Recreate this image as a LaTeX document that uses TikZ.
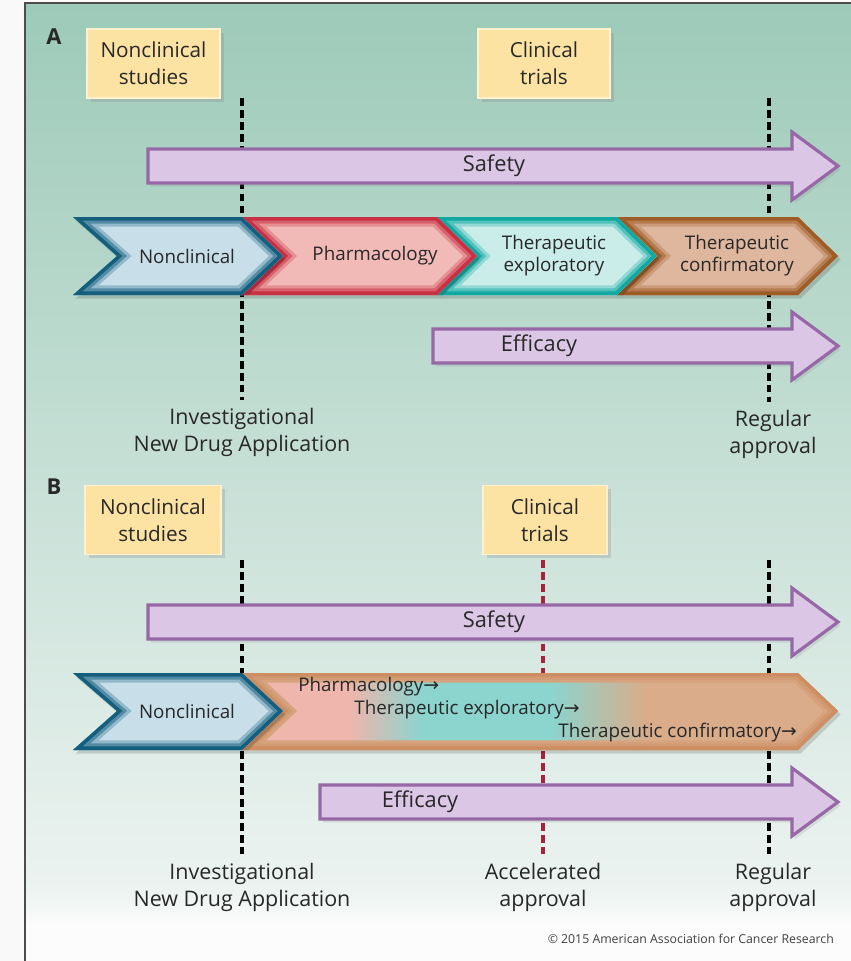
\documentclass[tikz,border=0pt]{standalone}
\usepackage{fontspec}
\setmainfont{Open Sans}
\newfontfamily\arrowfont{DejaVu Sans}
\usepackage{xcolor}
\usepackage{tikz}
\usetikzlibrary{shadows}
\definecolor{bgtop}{RGB}{157,202,185}
\definecolor{bgbot}{RGB}{236,243,240}
\definecolor{boxfill}{RGB}{253,227,163}
\definecolor{boxedge}{RGB}{255,241,205}
\definecolor{lavfill}{RGB}{220,198,230}
\definecolor{lavedge}{RGB}{150,104,166}
\definecolor{ncfill}{RGB}{200,223,234}
\definecolor{ncedge}{RGB}{20,94,126}
\definecolor{phfill}{RGB}{242,186,182}
\definecolor{phedge}{RGB}{200,48,68}
\definecolor{tefill}{RGB}{202,237,233}
\definecolor{teedge}{RGB}{18,168,162}
\definecolor{tcfill}{RGB}{222,183,158}
\definecolor{tcedge}{RGB}{158,92,38}
\definecolor{mixpink}{RGB}{238,182,172}
\definecolor{mixteal}{RGB}{140,212,206}
\definecolor{mixtan}{RGB}{218,172,138}
\definecolor{mixedge}{RGB}{204,142,98}
\definecolor{acceljred}{RGB}{168,34,60}
\definecolor{textdark}{RGB}{40,40,40}

% phase chevron with inner edge glow: path, fill, edge
\newcommand{\phaseshape}[3]{%
  \fill[black, opacity=0.14, xshift=1.5pt, yshift=-2pt] #1;
  \begin{scope}
    \clip #1;
    \fill[#2] #1;
    \draw[#3!30!#2, line width=11pt] #1;
    \draw[#3!65!#2, line width=7.5pt] #1;
    \draw[#3, line width=4pt] #1;
  \end{scope}}

\pgfdeclarehorizontalshading{phasemix}{100bp}{color(0bp)=(mixpink); color(34bp)=(mixpink);
  color(40bp)=(mixteal); color(51bp)=(mixteal); color(59bp)=(mixtan); color(100bp)=(mixtan)}

\begin{document}
\begin{tikzpicture}[x=0.02cm, y=-0.02cm,
    every node/.style={text=textdark},
    studybox/.style={fill=boxfill, draw=boxedge, line width=1pt, align=center,
      minimum height=1.38cm, font=\fontsize{11.8}{15.5}\selectfont,
      drop shadow={opacity=0.25, shadow xshift=2pt, shadow yshift=-2pt}},
    fatarrow/.style={fill=lavfill, draw=lavedge, line width=1.8pt, line join=miter,
      drop shadow={opacity=0.18, shadow xshift=1.5pt, shadow yshift=-2pt}},
    bartxt/.style={font=\fontsize{12.4}{15}\selectfont},
    stagetxt/.style={font=\fontsize{10.7}{12.5}\selectfont, align=center},
    mixtxt/.style={font=\fontsize{10.7}{12.5}\selectfont, anchor=west, inner sep=0pt},
    milestonetxt/.style={font=\fontsize{12.2}{15.3}\selectfont, align=center, inner sep=1pt},
    milestone/.style={line width=1.9pt, dash pattern=on 4.4pt off 2.4pt, shorten >=3pt},
    panel/.style={font=\fontsize{12.5}{14}\selectfont\bfseries}]
    \useasboundingbox (0,0) rectangle (851,961);

    % background and frame
    \fill[white!95!gray] (0,0) rectangle (25,961);
    \fill[white!98!gray] (25,0) rectangle (851,961);
    \shade[top color=bgtop, bottom color=bgbot] (25,3) rectangle (851,890);
    \shade[top color=bgbot, bottom color=white!98!gray] (25,890) rectangle (851,928);
    \draw[gray!60!black, line width=1.2pt] (25,961) -- (25,3) -- (851,3);

    % ---------------- Panel A ----------------
    \node[panel] (panA) at (54,37) {A};
    \node[studybox, minimum width=2.66cm] (ncsA) at (153.5,63.5) {Nonclinical\\studies};
    \node[studybox, minimum width=2.64cm] (ctA) at (544,63.5) {Clinical\\trials};

    % milestones
    \coordinate (indAtop) at (242,98);
    \coordinate (regAtop) at (769,98);
    \node[milestonetxt] (indA) at (242,432) {Investigational\\New Drug Application};
    \node[milestonetxt] (regA) at (773,434) {Regular\\approval};
    \draw[milestone] (indAtop) -- (indAtop |- indA.north);
    \draw[milestone] (regAtop) -- (regAtop |- regA.north);

    % Safety
    \draw[fatarrow] (148,149) -- (792,149) -- (792,132) -- (838,166) -- (792,200)
      -- (792,183) -- (148,183) -- cycle;
    \node[bartxt] (safeA) at (494,166) {Safety};

    % phases
    \phaseshape{(617,217) -- (798,217) -- (838,256) -- (798,295) -- (617,295) -- (657,256) -- cycle}{tcfill}{tcedge}
    \phaseshape{(437,217) -- (617,217) -- (657,256) -- (617,295) -- (437,295) -- (477,256) -- cycle}{tefill}{teedge}
    \phaseshape{(242,217) -- (437,217) -- (477,256) -- (437,295) -- (242,295) -- (283,256) -- cycle}{phfill}{phedge}
    \phaseshape{(73,217) -- (242,217) -- (283,256) -- (242,295) -- (73,295) -- (117,256) -- cycle}{ncfill}{ncedge}
    \node[stagetxt] (ncA) at (187,256) {Nonclinical};
    \node[stagetxt] (phA) at (375,256) {Pharmacology};
    \node[stagetxt] (teA) at (554,256) {Therapeutic\\exploratory};
    \node[stagetxt] (tcA) at (737,256) {Therapeutic\\confirmatory};

    % Efficacy
    \draw[fatarrow] (433,329) -- (792,329) -- (792,312) -- (838,346) -- (792,380)
      -- (792,363) -- (433,363) -- cycle;
    \node[bartxt] (effA) at (539,346) {Efficacy};

    % ---------------- Panel B ----------------
    \node[panel] (panB) at (54,487) {B};
    \node[studybox, minimum width=2.72cm] (ncsB) at (153,520) {Nonclinical\\studies};
    \node[studybox, minimum width=2.48cm] (ctB) at (545,520) {Clinical\\trials};

    % milestones
    \coordinate (indBtop) at (242,560);
    \coordinate (accBtop) at (543,560);
    \coordinate (regBtop) at (769,560);
    \node[milestonetxt] (indB) at (242,887) {Investigational\\New Drug Application};
    \node[milestonetxt] (accB) at (543,887) {Accelerated\\approval};
    \node[milestonetxt] (regB) at (773,887) {Regular\\approval};
    \draw[milestone] (indBtop) -- (indBtop |- indB.north);
    \draw[milestone, acceljred] (accBtop) -- (accBtop |- accB.north);
    \draw[milestone] (regBtop) -- (regBtop |- regB.north);

    % Safety
    \draw[fatarrow] (148,605) -- (792,605) -- (792,588) -- (838,622) -- (792,656)
      -- (792,639) -- (148,639) -- cycle;
    \node[bartxt] (safeB) at (494,622) {Safety};

    % phases, overlapping
    \fill[black, opacity=0.14, xshift=1.5pt, yshift=-2pt] (242,673) -- (798,673) -- (838,711)
      -- (798,750) -- (242,750) -- (283,711) -- cycle;
    \begin{scope}
      \clip (242,673) -- (798,673) -- (838,711) -- (798,750) -- (242,750) -- (283,711) -- cycle;
      \shade[shading=phasemix] (242,673) rectangle (838,750);
      \draw[mixedge!30!mixtan, line width=11pt] (242,673) -- (798,673) -- (838,711)
        -- (798,750) -- (242,750) -- (283,711) -- cycle;
      \draw[mixedge!60!mixtan, line width=7.5pt] (242,673) -- (798,673) -- (838,711)
        -- (798,750) -- (242,750) -- (283,711) -- cycle;
      \draw[mixedge, line width=4pt] (242,673) -- (798,673) -- (838,711)
        -- (798,750) -- (242,750) -- (283,711) -- cycle;
    \end{scope}
    \phaseshape{(73,673) -- (242,673) -- (283,711) -- (242,750) -- (73,750) -- (117,711) -- cycle}{ncfill}{ncedge}
    \node[stagetxt] (ncB) at (187,711) {Nonclinical};
    \node[mixtxt] (phB) at (298,687) {Pharmacology{\arrowfont →}};
    \node[mixtxt] (teB) at (354,710) {Therapeutic exploratory{\arrowfont →}};
    \node[mixtxt] (tcB) at (558,733) {Therapeutic confirmatory{\arrowfont →}};

    % Efficacy
    \draw[fatarrow] (320,785) -- (792,785) -- (792,768) -- (838,802) -- (792,836)
      -- (792,819) -- (320,819) -- cycle;
    \node[bartxt] (effB) at (420,802) {Efficacy};

    % credit
    \node[font=\fontsize{7}{8}\selectfont, anchor=east, text=black!75] (credit) at (840,939)
      {\textcopyright{} 2015 American Association for Cancer Research};
\end{tikzpicture}
\end{document}
